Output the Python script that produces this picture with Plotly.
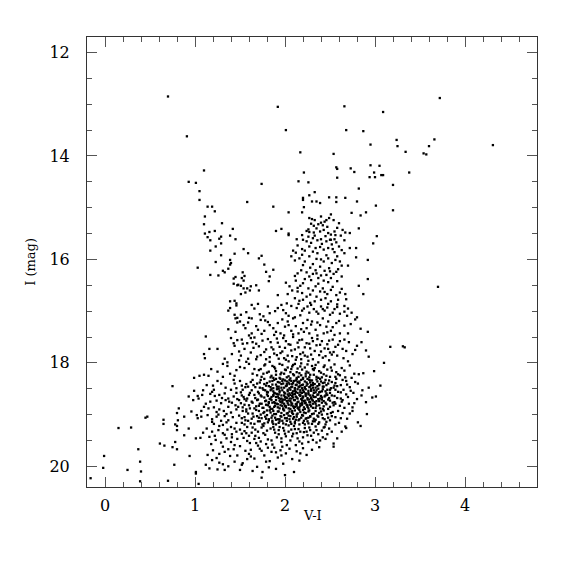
import plotly.graph_objects as go

# (V-I, I) pairs, grouped by region
bright_stars = [
    (0.70,12.85),(0.91,13.62),(1.10,14.28),(0.93,14.50),(1.01,14.52),
    (1.92,13.05),(2.66,13.04),(3.09,13.15),(2.01,13.50),(2.68,13.50),(2.87,13.52),(2.95,13.78),
    (2.17,13.93),(2.54,13.96),(2.95,14.18),(3.05,14.19),(2.57,14.22),(2.58,14.25),(2.73,14.24),
    (2.77,14.31),(2.99,14.32),(3.07,14.37),(3.09,14.37),(2.21,14.32),(2.94,14.41),(3.00,14.41),
    (2.58,14.42),(2.15,14.49),(2.26,14.51),(1.74,14.54),
    (3.72,12.88),(3.24,13.69),(3.66,13.68),(3.25,13.81),(3.60,13.81),(4.31,13.79),(3.34,13.92),
    (3.54,13.95),(3.57,13.97),(3.38,14.32),(3.20,14.56),(3.20,15.05),(3.70,16.53),
    (3.17,17.69),(3.31,17.68),(3.33,17.70),
]

blue_sequence = [
    (1.05,14.68),(1.05,14.85),(1.14,14.98),(1.19,14.98),(1.22,15.07),(1.11,15.17),(1.10,15.32),
    (1.30,15.30),(1.42,15.41),(1.11,15.50),(1.16,15.47),(1.22,15.45),(1.14,15.57),(1.29,15.56),
    (1.27,15.60),(1.39,15.54),(1.45,15.61),(1.17,15.63),(1.29,15.69),(1.23,15.75),(1.17,15.83),
    (1.44,15.89),(1.29,15.92),(1.39,16.01),(1.40,16.07),(1.39,16.10),(1.23,16.05),(1.03,16.16),
    (1.37,16.18),(1.31,16.22),(1.33,16.25),(1.26,16.31),(1.17,16.30),(1.43,16.37),(1.45,16.34),
    (1.43,16.47),(1.47,16.50),(1.44,16.80),(1.46,16.85),(1.46,16.89),(1.39,16.81),(1.37,16.99),
    (1.39,16.94),(1.44,17.07),(1.45,17.14),(1.47,17.13),(1.47,17.22),
    (1.58,14.89),(1.54,15.80),(1.59,15.88),(1.71,15.98),(1.74,15.93),(1.77,16.10),(1.87,16.20),
    (1.79,16.24),(1.83,16.33),(1.82,16.42),(1.53,16.25),(1.55,16.32),(1.52,16.36),(1.54,16.41),
    (1.48,16.49),(1.51,16.51),(1.54,16.56),(1.58,16.56),(1.62,16.52),(1.61,16.60),(1.56,16.64),
    (1.51,16.67),(1.68,16.50),(1.71,16.60),(1.63,16.88),(1.70,16.86),(1.51,17.07),(1.63,17.14),
    (1.76,17.10),(1.83,17.04),
]

giant_branch = [
    (2.82,14.63),(2.33,14.70),(2.27,14.76),(2.20,14.81),(2.20,14.85),(2.49,14.80),(2.57,14.80),
    (2.57,14.89),(2.67,14.81),(2.30,14.88),(2.35,14.88),(2.39,14.91),(2.80,14.88),(1.87,14.98),
    (2.21,14.99),(3.01,14.96),(2.04,15.09),(2.19,15.09),(2.90,15.09),(2.74,15.10),(2.51,15.13),
    (2.84,15.15),(2.27,15.20),(2.30,15.22),(2.49,15.20),(2.46,15.24),(2.54,15.24),(2.44,15.27),
    (2.40,15.29),(2.37,15.32),(2.29,15.31),(2.32,15.35),(2.58,15.39),(2.64,15.43),(2.67,15.48),
    (2.82,15.40),(1.90,15.45),(1.96,15.41),(2.04,15.50),(2.04,15.53),(2.24,15.45),(2.27,15.47),
    (2.32,15.48),(2.39,15.46),(2.43,15.43),(2.48,15.49),(2.51,15.52),(2.56,15.53),(2.72,15.49),
    (3.02,15.55),(2.26,15.56),(2.33,15.54),(2.13,15.61),(2.20,15.62),(2.24,15.65),(2.31,15.59),
    (2.36,15.63),(2.40,15.61),(2.46,15.65),(2.50,15.62),(2.55,15.61),(2.57,15.67),(2.66,15.63),
    (2.98,15.69),(2.14,15.73),(2.19,15.80),(2.22,15.83),(2.27,15.75),(2.34,15.78),(2.39,15.76),
    (2.43,15.81),(2.48,15.78),(2.53,15.80),(2.60,15.75),(2.72,15.78),(2.79,15.78),(2.09,15.83),
    (2.12,15.87),(2.07,15.94),(2.11,16.02),(2.16,15.98),(2.22,16.04),(2.27,15.94),(2.31,16.09),
    (2.35,15.99),(2.39,16.14),(2.43,16.04),(2.48,15.98),(2.52,16.07),(2.58,15.94),(2.61,16.04),
    (2.66,15.88),(2.70,16.12),(2.92,16.01),(2.79,15.96),(2.11,16.32),(2.14,16.27),(2.18,16.21),
    (2.24,16.25),(2.27,16.33),(2.31,16.28),(2.34,16.21),(2.37,16.36),(2.40,16.31),(2.43,16.41),
    (2.46,16.30),(2.50,16.23),(2.51,16.36),(2.54,16.28),(2.59,16.19),(2.63,16.33),(2.92,16.38),
    (2.01,16.45),(2.05,16.52),(2.12,16.41),(2.17,16.51),(2.20,16.46),(1.92,16.69),(2.82,16.51),
    (2.87,16.67),(2.26,16.56),(2.31,16.60),(2.34,16.52),(2.39,16.62),(2.42,16.56),(2.47,16.67),
    (2.51,16.59),(2.57,16.69),(2.61,16.64),(2.67,16.67),(2.03,16.67),(2.11,16.75),(2.14,16.62),
    (2.20,16.78),(2.24,16.72),(2.33,16.81),(2.40,16.78),(2.45,16.75),(2.51,16.81),(2.59,16.78),
    (2.68,16.77),(1.96,16.88),(1.92,16.94),(2.07,16.90),(2.13,16.94),(2.19,16.99),(2.25,16.91),
    (2.27,17.03),(2.32,16.96),(2.37,17.05),(2.40,16.91),(2.44,16.99),(2.50,17.07),(2.55,16.96),
    (2.61,17.05),(2.66,17.01),(2.74,17.03),(2.04,17.09),(2.09,17.14),(2.66,16.90),(2.73,17.25),
    (1.50,17.20),(1.54,17.27),(1.59,17.22),(1.68,17.29),(1.73,17.17),(1.77,17.38),(1.83,17.27),
    (1.87,17.33),(1.92,17.23),(1.95,17.43),(2.00,17.30),(2.03,17.20),(2.07,17.38),(2.12,17.29),
    (2.15,17.43),(2.20,17.23),(2.24,17.33),(2.27,17.43),(2.30,17.20),(2.34,17.36),(2.39,17.27),
    (2.43,17.43),(2.46,17.30),(2.51,17.38),(2.57,17.23),(2.61,17.43),(2.48,17.20),(1.63,17.43),
    (1.88,17.46),
    (2.42,15.34),(2.35,15.40),(2.47,15.37),(2.55,15.46),(2.62,15.54),(2.19,15.53),(2.45,15.55),
    (2.29,15.68),(2.52,15.71),(2.41,15.70),(2.63,15.82),(2.36,15.88),(2.46,15.92),(2.55,15.86),
    (2.19,15.91),(2.31,15.85),(2.40,16.00),(2.56,16.01),(2.63,16.12),(2.28,16.16),(2.20,16.11),
    (2.49,16.17),(2.35,16.27),(2.57,16.24),(2.44,16.22),(2.29,16.40),(2.48,16.44),(2.37,16.47),
    (2.58,16.42),(2.22,16.38),(2.14,16.55),(2.44,16.63),(2.28,16.68),(2.53,16.53),(2.35,16.72),
    (2.19,16.65),(2.63,16.57),(2.08,16.60),(2.48,16.86),(2.28,16.84),(2.16,16.80),(2.42,16.96),
    (2.21,16.95),(2.58,16.92),(2.02,16.85),(2.51,15.62),(2.33,15.24),(2.40,15.17),(2.26,15.42),
    (2.60,15.30),
]

subgiants = [
    (1.66,16.95),(1.81,16.91),(1.98,16.98),(2.15,16.86),(2.29,16.88),(2.47,16.93),(2.58,16.87),
    (2.70,16.95),(1.57,17.02),(1.72,17.06),(1.89,17.00),(2.01,17.04),(2.17,17.08),(2.35,17.01),
    (2.53,17.03),(2.69,17.09),(2.80,17.12),(1.60,17.13),(1.78,17.18),(1.97,17.16),(2.11,17.12),
    (2.25,17.17),(2.42,17.14),(2.60,17.19),(2.78,17.16),(1.56,17.33),(1.70,17.36),(1.81,17.21),
    (2.04,17.27),(2.18,17.35),(2.29,17.26),(2.36,17.22),(2.53,17.31),(2.66,17.28),(2.84,17.34),
    (1.45,17.40),(1.60,17.47),(1.74,17.44),(1.90,17.40),(1.99,17.47),(2.09,17.45),(2.21,17.40),
    (2.36,17.47),(2.47,17.41),(2.55,17.46),(2.70,17.43),(2.92,17.40),(1.47,17.56),(1.62,17.52),
    (1.68,17.63),(1.81,17.54),(1.92,17.61),(1.98,17.52),(2.04,17.64),(2.16,17.56),(2.24,17.62),
    (2.31,17.58),(2.39,17.65),(2.49,17.57),(2.59,17.65),(2.66,17.55),(2.85,17.60),(1.55,17.73),
    (1.65,17.71),(1.77,17.79),(1.87,17.74),(1.95,17.81),(2.07,17.76),(2.15,17.70),(2.20,17.80),
    (2.28,17.72),(2.40,17.78),(2.48,17.73),(2.54,17.79),(2.64,17.73),(2.90,17.76),(1.51,17.86),
    (1.59,17.92),(1.73,17.85),(1.83,17.89),(1.91,17.85),(2.01,17.94),(2.08,17.87),(2.18,17.93),
    (2.22,17.86),(2.31,17.93),(2.42,17.90),(2.52,17.84),(2.65,17.91),(2.70,17.97),(2.93,17.88),
    (1.37,17.35),(1.53,17.63),(1.41,17.83),(1.57,17.98),(1.33,17.92),(1.64,17.60),(1.49,17.78),
]

faint_blue = [
    (1.12,17.49),(1.10,17.83),(1.11,17.91),(1.16,17.73),(1.25,17.73),(1.40,17.52),(1.43,17.62),
    (1.44,17.67),(1.31,18.02),(1.36,17.99),(1.36,18.06),(1.46,18.14),(0.99,18.29),(1.05,18.25),
    (1.10,18.23),(1.15,18.25),(1.31,18.27),(1.44,18.25),(1.43,18.33),(1.44,18.40),(1.29,18.40),
    (0.75,18.45),(1.09,18.53),(0.99,18.54),(1.21,18.52),(1.19,18.56),(1.40,18.52),(1.46,18.49),
    (0.93,18.65),(1.03,18.64),(1.04,18.69),(1.17,18.60),(1.22,18.64),(1.27,18.62),(1.33,18.59),
    (1.37,18.69),(1.43,18.65),(1.46,18.58),(0.98,18.72),(1.17,18.75),(1.24,18.73),(1.29,18.78),
    (1.34,18.72),(1.38,18.75),(1.45,18.82),(0.82,18.88),(0.80,18.97),(0.96,18.94),(1.07,18.93),
    (1.10,18.85),(1.15,18.88),(1.21,18.86),(1.27,18.90),(1.32,18.93),(1.37,18.85),(1.40,18.96),
    (1.46,18.90),(1.02,19.01),(1.03,19.07),(1.07,19.04),(0.88,19.04),(0.81,19.11),(0.45,19.06),
    (0.47,19.04),(0.65,19.10),(0.65,19.18),(0.78,19.19),(0.80,19.22),(1.14,19.01),(1.19,19.09),
    (1.24,19.04),(1.29,19.12),(1.33,19.03),(1.37,19.11),(1.42,19.05),(1.46,19.16),(1.21,19.18),
    (1.31,19.20),(1.40,19.24),(0.15,19.26),(0.29,19.25),(0.93,19.27),(0.80,19.30),(1.13,19.27),
    (1.19,19.33),(1.26,19.30),(1.31,19.36),(1.36,19.29),(1.41,19.38),(1.46,19.33),(0.88,19.40),
    (1.06,19.45),(1.01,19.46),(1.16,19.43),(1.23,19.49),(1.29,19.54),(1.35,19.46),(1.40,19.53),
    (1.44,19.59),(0.78,19.53),(0.61,19.56),(0.66,19.60),(0.75,19.63),(0.80,19.67),(0.37,19.67),
    (1.14,19.78),(1.20,19.69),(1.27,19.76),(1.33,19.72),(1.39,19.80),(1.43,19.67),(0.94,19.80),
    (-0.01,19.80),(0.39,19.91),(0.77,19.97),(1.19,19.88),(1.27,19.93),(1.31,19.96),(1.44,19.91),
    (-0.02,20.03),(0.25,20.07),(0.40,20.10),(1.01,20.11),(1.01,20.14),(1.16,20.04),(1.25,20.06),
    (1.33,20.07),(-0.16,20.23),(0.39,20.29),(0.70,20.28),(1.04,20.34),
    (1.18,18.12),(1.25,18.35),(1.39,18.21),(1.50,18.08),(1.13,18.43),(1.34,18.48),(1.52,18.44),
    (1.08,18.62),(1.30,18.68),(1.41,18.77),(1.55,18.70),(1.12,18.79),(1.24,18.95),(1.35,18.99),
    (1.48,18.85),(1.57,18.90),(1.19,19.14),(1.27,19.22),(1.35,19.15),(1.44,19.27),(1.55,19.19),
    (1.63,19.35),(1.09,19.35),(1.22,19.41),(1.33,19.39),(1.47,19.47),(1.58,19.51),(1.66,19.47),
    (1.18,19.57),(1.31,19.62),(1.37,19.67),(1.50,19.61),(1.70,19.60),(1.24,19.84),(1.47,19.79),
    (1.58,19.86),(1.37,20.00),(1.50,20.07),(1.12,19.97),(1.82,20.02),(1.96,19.79),(2.17,19.75),
    (2.12,19.59),(2.35,19.54),(2.42,19.44),(2.47,19.38),
    (1.25,18.17),(1.20,18.44),(1.47,18.70),(1.26,19.00),(1.52,19.07),(1.60,19.41),(1.68,19.55),
    (1.74,19.70),(1.81,19.64),(1.90,19.73),(1.97,19.62),(1.62,19.81),(1.41,19.44),(1.52,19.37),
    (1.71,19.45),(1.85,19.50),(1.96,19.46),(2.08,19.42),(2.16,19.52),(2.29,19.41),(2.39,19.50),
    (1.76,19.36),(1.88,19.29),(2.00,19.37),(2.13,19.36),(2.24,19.33),(2.43,19.25),(1.55,19.32),
]

main_clump = [
    (1.52,17.55),(1.58,17.62),(1.66,17.51),(1.71,17.68),(1.75,17.57),(1.79,17.74),(1.84,17.60),
    (1.88,17.82),(1.91,17.53),(1.94,17.69),(1.97,17.78),(2.01,17.58),(2.03,17.86),(2.06,17.65),
    (2.09,17.50),(2.11,17.74),(2.14,17.61),(2.17,17.83),(2.19,17.55),(2.22,17.70),(2.25,17.88),
    (2.27,17.63),(2.30,17.52),(2.33,17.77),(2.35,17.66),(2.38,17.85),(2.41,17.58),(2.44,17.72),
    (2.47,17.64),(2.50,17.80),(2.53,17.55),(2.56,17.69),(2.61,17.58),(2.68,17.77),(2.71,17.60),
    (2.75,17.83),(2.78,17.75),(2.80,17.67),(1.62,17.80),(1.69,17.88),(2.00,17.71),(2.13,17.89),
    (2.29,17.84),(2.45,17.87),(2.36,17.54),(1.85,17.70),(2.58,17.86),
    (1.49,17.95),(1.55,18.10),(1.60,18.02),(1.64,18.21),(1.68,17.93),(1.71,18.14),(1.74,18.27),
    (1.77,18.05),(1.80,18.19),(1.83,17.98),(1.85,18.25),(1.88,18.08),(1.90,18.16),(1.93,17.92),
    (1.95,18.22),(1.97,18.04),(2.00,18.13),(2.02,18.28),(2.04,17.97),(2.06,18.18),(2.08,18.07),
    (2.10,18.24),(2.12,17.94),(2.14,18.11),(2.16,18.20),(2.18,18.01),(2.20,18.29),(2.22,18.09),
    (2.24,18.17),(2.26,17.96),(2.28,18.23),(2.30,18.06),(2.32,18.14),(2.35,18.27),(2.37,17.99),
    (2.40,18.19),(2.43,18.08),(2.46,18.25),(2.49,17.95),(2.52,18.15),(2.55,18.03),(2.59,18.22),
    (2.63,18.10),(2.67,18.28),(2.72,18.05),(2.77,18.21),(2.82,18.22),(2.87,18.20),(2.99,18.16),
    (3.10,18.00),(1.87,18.29),(1.99,17.91),(2.11,18.02),(2.23,18.26),(2.34,18.04),(2.41,18.28),
    (1.79,17.93),(1.66,18.12),(2.56,18.27),(2.15,18.27),
    (1.50,18.35),(1.53,18.52),(1.57,18.41),(1.61,18.58),(1.64,18.33),(1.67,18.47),(1.70,18.56),
    (1.72,18.38),(1.75,18.49),(1.77,18.31),(1.79,18.44),(1.81,18.57),(1.83,18.36),(1.85,18.51),
    (1.86,18.42),(1.88,18.33),(1.89,18.59),(1.91,18.46),(1.92,18.37),(1.94,18.54),(1.95,18.31),
    (1.96,18.48),(1.98,18.40),(1.99,18.57),(2.00,18.34),(2.01,18.45),(2.03,18.52),(2.04,18.38),
    (2.05,18.59),(2.06,18.30),(2.07,18.47),(2.08,18.41),(2.09,18.55),(2.10,18.35),(2.11,18.50),
    (2.12,18.43),(2.13,18.32),(2.14,18.58),(2.15,18.46),(2.16,18.39),(2.17,18.53),(2.18,18.33),
    (2.19,18.49),(2.20,18.42),(2.21,18.56),(2.22,18.36),(2.23,18.51),(2.24,18.44),(2.25,18.31),
    (2.26,18.58),(2.27,18.47),(2.28,18.38),(2.29,18.54),(2.30,18.34),(2.31,18.48),(2.33,18.41),
    (2.34,18.57),(2.35,18.32),(2.37,18.50),(2.38,18.43),(2.40,18.36),(2.41,18.55),(2.43,18.46),
    (2.45,18.33),(2.46,18.59),(2.48,18.40),(2.50,18.52),(2.52,18.37),(2.54,18.48),(2.57,18.31),
    (2.59,18.56),(2.62,18.43),(2.65,18.52),(2.68,18.35),(2.72,18.47),(2.76,18.58),(2.81,18.40),
    (2.86,18.53),(3.06,18.44),(1.59,18.46),(1.69,18.40),(1.84,18.47),(1.93,18.50),(2.02,18.41),
    (2.07,18.35),(2.12,18.56),(2.17,18.44),(2.22,18.47),(2.27,18.33),(2.32,18.53),(2.36,18.45),
    (2.42,18.39),(2.47,18.52),(2.55,18.44),(1.97,18.35),(2.05,18.49),(2.14,18.37),(2.19,18.58),
    (2.29,18.43),(2.39,18.56),(1.87,18.55),(1.78,18.53),
    (1.49,18.72),(1.52,18.63),(1.55,18.81),(1.58,18.69),(1.61,18.88),(1.63,18.75),(1.66,18.62),
    (1.68,18.84),(1.70,18.71),(1.72,18.79),(1.74,18.65),(1.76,18.87),(1.78,18.74),(1.80,18.61),
    (1.81,18.82),(1.83,18.70),(1.84,18.89),(1.86,18.77),(1.87,18.64),(1.88,18.85),(1.90,18.72),
    (1.91,18.60),(1.92,18.80),(1.93,18.68),(1.94,18.88),(1.95,18.76),(1.96,18.63),(1.97,18.83),
    (1.98,18.71),(1.99,18.79),(2.00,18.66),(2.01,18.86),(2.02,18.74),(2.03,18.61),(2.04,18.81),
    (2.05,18.69),(2.06,18.89),(2.07,18.77),(2.08,18.64),(2.09,18.84),(2.10,18.72),(2.11,18.60),
    (2.12,18.80),(2.13,18.67),(2.14,18.87),(2.15,18.75),(2.16,18.62),(2.17,18.83),(2.18,18.70),
    (2.19,18.78),(2.20,18.65),(2.21,18.86),(2.22,18.73),(2.23,18.61),(2.24,18.81),(2.25,18.68),
    (2.26,18.88),(2.27,18.76),(2.28,18.63),(2.29,18.84),(2.30,18.71),(2.31,18.79),(2.32,18.66),
    (2.34,18.87),(2.35,18.74),(2.36,18.62),(2.38,18.82),(2.39,18.69),(2.41,18.77),(2.42,18.89),
    (2.44,18.65),(2.46,18.80),(2.48,18.71),(2.50,18.85),(2.52,18.63),(2.55,18.76),(2.58,18.68),
    (2.61,18.83),(2.64,18.72),(2.68,18.61),(2.71,18.79),(2.75,18.86),(2.80,18.70),(2.90,18.76),
    (2.97,18.67),(3.01,18.65),(1.85,18.66),(1.89,18.78),(1.95,18.70),(2.00,18.83),(2.04,18.73),
    (2.09,18.67),(2.13,18.79),(2.17,18.64),(2.21,18.74),(2.25,18.82),(2.29,18.67),(2.33,18.76),
    (2.37,18.70),(2.43,18.74),(2.47,18.62),(1.97,18.74),(2.06,18.62),(2.11,18.85),(2.19,18.69),
    (2.27,18.71),(2.40,18.64),(1.82,18.76),(1.92,18.65),(2.02,18.68),(2.15,18.89),(2.23,18.77),
    (2.53,18.77),
    (1.49,19.02),(1.53,18.93),(1.56,19.11),(1.59,18.98),(1.62,19.17),(1.65,19.04),(1.68,18.91),
    (1.70,19.13),(1.73,19.00),(1.75,19.19),(1.77,18.95),(1.79,19.08),(1.81,19.15),(1.83,18.92),
    (1.85,19.06),(1.87,19.18),(1.88,18.99),(1.90,19.10),(1.92,18.94),(1.93,19.16),(1.95,19.03),
    (1.97,19.12),(1.98,18.90),(2.00,19.07),(2.01,19.19),(2.03,18.97),(2.05,19.09),(2.06,19.14),
    (2.08,18.93),(2.10,19.05),(2.11,19.17),(2.13,19.00),(2.15,19.11),(2.16,18.91),(2.18,19.06),
    (2.20,19.16),(2.21,18.96),(2.23,19.08),(2.25,19.13),(2.27,18.92),(2.28,19.04),(2.30,19.18),
    (2.32,18.98),(2.34,19.10),(2.36,19.02),(2.38,19.15),(2.40,18.94),(2.42,19.07),(2.45,19.19),
    (2.47,18.99),(2.50,19.11),(2.53,18.95),(2.56,19.05),(2.60,19.16),(2.64,18.97),(2.69,19.08),
    (2.75,18.93),(2.81,19.15),(2.84,19.22),(2.91,18.99),(1.80,19.01),(1.94,19.09),(2.04,19.02),
    (2.12,19.10),(2.19,19.01),(2.26,19.06),(2.33,19.13),(2.41,19.00),(2.48,19.06),(1.71,19.06),
    (1.86,19.12),(2.09,18.99),(2.22,19.19),
    (1.50,19.29),(1.54,19.45),(1.57,19.36),(1.61,19.55),(1.64,19.25),(1.67,19.41),(1.70,19.33),
    (1.73,19.52),(1.76,19.22),(1.78,19.39),(1.81,19.48),(1.84,19.27),(1.86,19.58),(1.89,19.35),
    (1.91,19.44),(1.94,19.24),(1.96,19.53),(1.99,19.31),(2.01,19.42),(2.04,19.21),(2.06,19.50),
    (2.09,19.37),(2.11,19.28),(2.14,19.46),(2.17,19.33),(2.19,19.56),(2.22,19.26),(2.25,19.40),
    (2.28,19.30),(2.31,19.49),(2.34,19.23),(2.37,19.38),(2.41,19.31),(2.45,19.47),(2.49,19.27),
    (2.54,19.56),(2.58,19.46),(2.54,19.62),(2.63,19.33),(2.67,19.23),(2.68,19.26),(1.93,19.38),
    (2.07,19.29),(2.20,19.44),(2.32,19.35),(1.79,19.57),(2.02,19.59),(2.26,19.53),
    (1.52,19.97),(1.53,19.94),(1.56,19.70),(1.60,19.76),(1.62,19.68),(1.66,19.85),(1.69,20.01),
    (1.72,19.66),(1.74,20.22),(1.75,20.11),(1.77,19.79),(1.79,19.91),(1.83,19.90),(1.85,19.72),
    (1.88,19.64),(1.92,19.83),(1.95,19.69),(1.98,19.95),(2.01,19.75),(2.05,19.66),(2.08,19.86),
    (2.10,20.11),(2.13,19.71),(2.16,19.89),(2.20,19.65),(2.24,19.78),(2.30,19.68),(2.38,19.63),
    (1.90,20.05),(2.00,20.17),(1.64,20.09),
]

clump_core = [
    (1.78,18.03),(1.86,18.06),(1.94,18.02),(2.03,18.09),(2.09,18.04),(2.17,18.07),(2.25,18.03),
    (2.33,18.10),(2.44,18.05),(2.51,18.09),(1.73,18.12),(1.82,18.17),(1.89,18.11),(1.96,18.19),
    (2.01,18.14),(2.07,18.12),(2.13,18.18),(2.19,18.13),(2.26,18.19),(2.31,18.12),(2.38,18.16),
    (2.47,18.13),(2.57,18.18),(2.66,18.15),(1.69,18.24),(1.76,18.21),(1.84,18.28),(1.90,18.23),
    (1.94,18.29),(1.99,18.21),(2.04,18.26),(2.09,18.22),(2.13,18.29),(2.18,18.24),(2.23,18.21),
    (2.27,18.28),(2.32,18.23),(2.37,18.29),(2.43,18.22),(2.50,18.27),(2.61,18.24),(2.74,18.29),
    (1.62,18.37),(1.73,18.33),(1.80,18.39),(1.86,18.35),(1.90,18.31),(1.94,18.38),(1.98,18.32),
    (2.02,18.36),(2.05,18.33),(2.09,18.39),(2.12,18.34),(2.16,18.36),(2.20,18.31),(2.24,18.38),
    (2.28,18.34),(2.31,18.39),(2.36,18.36),(2.39,18.31),(2.44,18.38),(2.49,18.34),(2.56,18.39),
    (2.64,18.33),(2.78,18.37),(1.56,18.47),(1.65,18.43),(1.72,18.48),(1.77,18.41),(1.82,18.45),
    (1.87,18.49),(1.90,18.42),(1.93,18.46),(1.96,18.41),(1.99,18.48),(2.02,18.44),(2.05,18.41),
    (2.08,18.46),(2.11,18.49),(2.13,18.42),(2.16,18.47),(2.19,18.43),(2.22,18.49),(2.25,18.41),
    (2.28,18.46),(2.31,18.43),(2.34,18.48),(2.38,18.41),(2.42,18.46),(2.46,18.43),(2.51,18.49),
    (2.58,18.45),(2.69,18.42),(2.93,18.48),(1.51,18.57),(1.63,18.53),(1.71,18.59),(1.76,18.52),
    (1.80,18.56),(1.84,18.53),(1.88,18.58),(1.91,18.51),(1.94,18.57),(1.97,18.53),(2.00,18.59),
    (2.03,18.55),(2.06,18.52),(2.08,18.58),(2.11,18.54),(2.14,18.51),(2.17,18.57),(2.20,18.53),
    (2.23,18.59),(2.26,18.54),(2.29,18.51),(2.32,18.58),(2.35,18.53),(2.38,18.57),(2.42,18.51),
    (2.45,18.55),(2.50,18.58),(2.56,18.52),(2.62,18.57),(2.73,18.54),(1.54,18.66),(1.60,18.62),
    (1.67,18.68),(1.73,18.63),(1.77,18.67),(1.81,18.64),(1.84,18.69),(1.87,18.62),(1.90,18.66),
    (1.93,18.61),(1.96,18.69),(1.99,18.63),(2.01,18.67),(2.04,18.64),(2.07,18.69),(2.09,18.61),
    (2.12,18.65),(2.14,18.69),(2.17,18.62),(2.20,18.67),(2.23,18.64),(2.26,18.61),(2.29,18.68),
    (2.31,18.63),(2.34,18.66),(2.37,18.61),(2.41,18.67),(2.45,18.63),(2.49,18.68),(2.55,18.64),
    (2.62,18.69),(2.70,18.66),(2.85,18.63),(1.51,18.78),(1.57,18.73),(1.64,18.77),(1.69,18.72),
    (1.74,18.79),(1.79,18.73),(1.82,18.78),(1.85,18.72),(1.88,18.76),(1.91,18.79),(1.94,18.73),
    (1.97,18.77),(2.00,18.71),(2.03,18.78),(2.06,18.74),(2.08,18.79),(2.11,18.72),(2.14,18.76),
    (2.17,18.79),(2.19,18.73),(2.22,18.78),(2.25,18.71),(2.28,18.76),(2.31,18.73),(2.34,18.79),
    (2.38,18.74),(2.41,18.71),(2.45,18.77),(2.50,18.73),(2.56,18.79),(2.63,18.75),(2.77,18.78),
    (1.53,18.86),(1.60,18.82),(1.66,18.88),(1.71,18.83),(1.75,18.87),(1.79,18.81),(1.83,18.85),
    (1.86,18.89),(1.89,18.83),(1.92,18.86),(1.95,18.82),(1.98,18.88),(2.01,18.84),(2.04,18.88),
    (2.07,18.82),(2.10,18.87),(2.13,18.83),(2.16,18.86),(2.19,18.81),(2.22,18.89),(2.25,18.85),
    (2.28,18.81),(2.31,18.87),(2.35,18.83),(2.39,18.88),(2.43,18.84),(2.48,18.89),(2.54,18.82),
    (2.66,18.87),(1.57,18.94),(1.64,18.98),(1.71,18.93),(1.76,18.97),(1.80,18.92),(1.84,18.96),
    (1.87,18.93),(1.90,18.99),(1.93,18.94),(1.96,18.97),(1.99,18.92),(2.02,18.98),(2.05,18.94),
    (2.08,18.97),(2.11,18.92),(2.14,18.98),(2.17,18.95),(2.20,18.91),(2.23,18.97),(2.26,18.94),
    (2.30,18.99),(2.34,18.93),(2.38,18.97),(2.43,18.92),(2.51,18.97),(2.59,18.93),(2.72,18.98),
    (1.55,19.05),(1.63,19.08),(1.69,19.03),(1.74,19.07),(1.78,19.04),(1.82,19.09),(1.86,19.02),
    (1.89,19.06),(1.92,19.09),(1.96,19.04),(1.99,19.01),(2.02,19.07),(2.06,19.03),(2.09,19.08),
    (2.13,19.04),(2.16,19.09),(2.20,19.02),(2.24,19.07),(2.28,19.03),(2.32,19.08),(2.37,19.04),
    (2.44,19.09),(2.52,19.03),(2.62,19.07),(1.52,19.16),(1.59,19.12),(1.66,19.18),(1.72,19.13),
    (1.77,19.17),(1.82,19.11),(1.86,19.15),(1.90,19.19),(1.94,19.13),(1.98,19.17),(2.02,19.12),
    (2.07,19.18),(2.11,19.14),(2.16,19.19),(2.21,19.12),(2.26,19.17),(2.31,19.13),(2.37,19.18),
    (2.46,19.14),(2.56,19.19),(1.58,19.24),(1.67,19.29),(1.74,19.25),(1.80,19.31),(1.87,19.24),
    (1.93,19.30),(1.98,19.26),(2.04,19.33),(2.10,19.22),(2.15,19.28),(2.21,19.34),(2.27,19.25),
    (2.35,19.30),(2.44,19.24),(2.52,19.33),
]

groups = [bright_stars, blue_sequence, giant_branch, subgiants, faint_blue, main_clump, clump_core]
vi = [p[0] for g in groups for p in g]
imag = [p[1] for g in groups for p in g]

x_ticks = [0, 1, 2, 3, 4]
y_ticks = [12, 14, 16, 18, 20]

fig = go.Figure()
fig.add_trace(go.Scatter(
    x=vi, y=imag, mode="markers",
    marker=dict(symbol="square", size=2.3, color="black", line=dict(width=0)),
    showlegend=False, hoverinfo="skip",
))

axis_common = dict(
    showgrid=False, zeroline=False, showline=True, linecolor="#333", linewidth=1,
    mirror="ticks", ticks="inside", tickcolor="#555", tickwidth=1, ticklen=10,
    tickfont=dict(family="DejaVu Serif", size=16, color="black"),
    automargin=False,
)

fig.update_layout(
    width=575, height=575,
    margin=dict(l=79, r=46, t=29, b=96),
    paper_bgcolor="white", plot_bgcolor="white",
    xaxis=dict(
        range=[-0.2, 4.8], tickvals=x_ticks, ticktext=[str(v) for v in x_ticks],
        minor=dict(dtick=0.2, tick0=0, ticks="inside", ticklen=5, tickcolor="#555"),
        ticklabelstandoff=4,
        **axis_common,
    ),
    yaxis=dict(
        range=[20.4, 11.7], tickvals=y_ticks, ticktext=[str(v) for v in y_ticks],
        minor=dict(dtick=0.5, tick0=12, ticks="inside", ticklen=5, tickcolor="#555"),
        ticklabelstandoff=13,
        **axis_common,
    ),
    annotations=[
        dict(text="V-I", xref="paper", yref="paper", x=0.5, y=-0.064,
             xanchor="center", yanchor="middle", showarrow=False,
             font=dict(family="DejaVu Serif", size=13, color="black")),
        dict(text="I (mag)", xref="paper", yref="paper", x=-0.127, y=0.5,
             xanchor="center", yanchor="middle", showarrow=False, textangle=-90,
             font=dict(family="DejaVu Serif", size=13, color="black")),
    ],
)

fig.write_html("out.html")
